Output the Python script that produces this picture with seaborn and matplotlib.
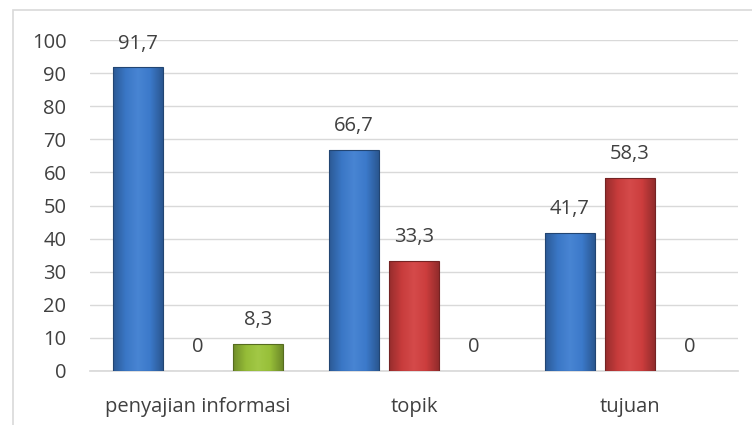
import numpy as np
import pandas as pd
import matplotlib
matplotlib.use('Agg')
import matplotlib.pyplot as plt
from matplotlib.patches import Rectangle
from matplotlib.colors import LinearSegmentedColormap, to_rgb
import seaborn as sns

# data
categories = ['penyajian informasi', 'topik', 'tujuan']
series_names = ['Seri 1', 'Seri 2', 'Seri 3']
values_blue = [91.7, 66.7, 41.7]
values_red = [0, 33.3, 58.3]
values_green = [8.3, 0, 0]
y_ticks = [0, 10, 20, 30, 40, 50, 60, 70, 80, 90, 100]

colors = ['#3d7dd0', '#d23f3f', '#9cc53a']

df = pd.DataFrame({
    'kategori': categories * 3,
    'seri': [s for s in series_names for _ in categories],
    'nilai': values_blue + values_red + values_green,
})

sns.set_theme(style='white')
plt.rcParams['font.family'] = ['Open Sans', 'DejaVu Sans']

fig = plt.figure(figsize=(7.52, 4.25), dpi=100)
ax = fig.add_axes([90 / 752, 1 - 371 / 425, 648 / 752, 331 / 425])

sns.barplot(data=df, x='kategori', y='nilai', hue='seri', palette=colors,
            saturation=1, width=0.833, gap=0.18, legend=False, ax=ax, zorder=2)

ax.set_xlim(-0.5, 2.5)
ax.set_ylim(0, 100)
ax.set_yticks(y_ticks)
ax.yaxis.grid(True, color='#d9d9d9', linewidth=1)
ax.set_axisbelow(True)
for side in ['top', 'right', 'left']:
    ax.spines[side].set_visible(False)
ax.spines['bottom'].set_color('#d9d9d9')
ax.set_xlabel('')
ax.set_ylabel('')
ax.tick_params(axis='both', length=0, labelsize=14.5, labelcolor='#404040')
ax.tick_params(axis='y', pad=17)
ax.tick_params(axis='x', pad=19)


def shade(rgb, f):
    r = np.array(rgb)
    if f < 1:
        return tuple(r * f)
    return tuple(r + (1 - r) * (f - 1))


# give each bar a rounded, glossy look
for bar in ax.patches:
    h = bar.get_height()
    if h <= 0:
        continue
    x = bar.get_x()
    w = bar.get_width()
    base = to_rgb(bar.get_facecolor())
    cmap = LinearSegmentedColormap.from_list(
        'g', [shade(base, 0.72), shade(base, 0.95), shade(base, 1.06),
              shade(base, 0.97), shade(base, 0.7)])
    grad = np.linspace(0, 1, 64).reshape(1, -1)
    im = ax.imshow(grad, cmap=cmap, extent=[x, x + w, 0, h], aspect='auto',
                   zorder=3)
    im.set_clip_path(bar)
    bar.set_edgecolor(shade(base, 0.55))
    bar.set_linewidth(0.8)
    bar.set_zorder(4)
    bar.set_facecolor('none')

for cont, vals in zip(ax.containers, [values_blue, values_red, values_green]):
    labels = [f'{v:g}'.replace('.', ',') for v in vals]
    ax.bar_label(cont, labels=labels, padding=10, fontsize=14.5, color='#404040')

ax.set_xlim(-0.5, 2.5)
ax.set_ylim(0, 100)

fig.patches.append(Rectangle((13 / 752, -0.1), 1.1, 1.1 - 10 / 425,
                             transform=fig.transFigure, fill=False,
                             edgecolor='#d9d9d9', linewidth=1.2))

fig.savefig('out.png', dpi=100)
